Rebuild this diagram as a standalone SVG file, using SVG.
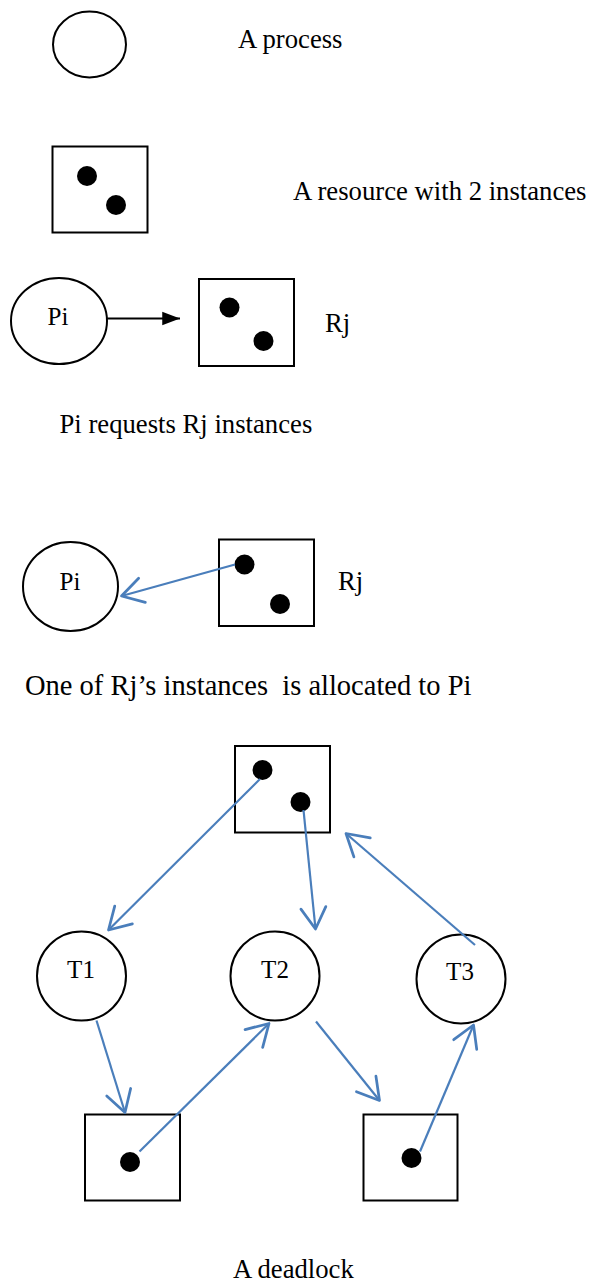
<svg xmlns="http://www.w3.org/2000/svg" width="589" height="1283" viewBox="0 0 589 1283">
<style>
.shape{fill:#fff;stroke:#000;stroke-width:2}
.dot{fill:#000}
text{font-family:"Liberation Serif","DejaVu Serif","Times New Roman",serif;fill:#000}
.txt{font-size:26.7px}
.big{font-size:28.5px}
.lbl{font-size:25px;text-anchor:middle}
.blue{fill:none;stroke:#4A7EBB;stroke-width:2.2;marker-end:url(#open)}
.black{fill:none;stroke:#000;stroke-width:2;marker-end:url(#solid)}
</style>
<defs>
<marker id="open" markerUnits="userSpaceOnUse" markerWidth="30" markerHeight="30" viewBox="-20 -12 22 24" refX="0" refY="0" orient="auto" overflow="visible">
<path d="M -17 -10 L 0 0 L -17 10" fill="none" stroke="#4A7EBB" stroke-width="2.2" stroke-linejoin="round" stroke-linecap="round"/>
</marker>
<marker id="solid" markerUnits="userSpaceOnUse" markerWidth="20" markerHeight="20" viewBox="-17 -7 18 14" refX="0" refY="0" orient="auto" overflow="visible">
<path d="M -16 -6 L 0 0 L -16 6 z" fill="#000"/>
</marker>
</defs>

<g id="legend-process">
<ellipse class="shape" cx="89.5" cy="44.5" rx="36.5" ry="33"/>
<text class="txt" x="238" y="48">A process</text>
</g>

<g id="legend-resource">
<rect class="shape" x="52.5" y="146.5" width="95" height="86"/>
<circle class="dot" cx="87" cy="176" r="10"/>
<circle class="dot" cx="116" cy="205" r="10"/>
<text class="txt" x="293" y="200">A resource with 2 instances</text>
</g>

<g id="req-Pi">
<ellipse class="shape" cx="59" cy="321" rx="48" ry="43"/>
<text class="lbl" x="58" y="325">Pi</text>
</g>
<g id="req-Rj">
<rect class="shape" x="199" y="279" width="95" height="87"/>
<circle class="dot" cx="229.5" cy="307.5" r="10"/>
<circle class="dot" cx="263.5" cy="341" r="10"/>
<text class="txt" x="325" y="332">Rj</text>
</g>
<text class="txt" x="59.5" y="433">Pi requests Rj instances</text>

<g id="alloc-Pi">
<ellipse class="shape" cx="70.5" cy="586.5" rx="47.5" ry="44.5"/>
<text class="lbl" x="70" y="590">Pi</text>
</g>
<g id="alloc-Rj">
<rect class="shape" x="219" y="539.5" width="95" height="86.5"/>
<circle class="dot" cx="244.5" cy="564.5" r="10"/>
<circle class="dot" cx="280" cy="604" r="10"/>
<text class="txt" x="338" y="590">Rj</text>
</g>
<text class="big" x="25" y="695" xml:space="preserve">One of Rj’s instances  is allocated to Pi</text>

<g id="R1">
<rect class="shape" x="235" y="746" width="95" height="86.5"/>
<circle class="dot" cx="262.5" cy="770" r="10"/>
<circle class="dot" cx="300.5" cy="802" r="10"/>
</g>
<g id="T1">
<circle class="shape" cx="81.5" cy="976" r="44.5"/>
<text class="lbl" x="81" y="978">T1</text>
</g>
<g id="T2">
<circle class="shape" cx="275" cy="976" r="44.5"/>
<text class="lbl" x="275" y="978">T2</text>
</g>
<g id="T3">
<circle class="shape" cx="461" cy="979" r="44.5"/>
<text class="lbl" x="460" y="980">T3</text>
</g>
<g id="R2">
<rect class="shape" x="85" y="1114.5" width="95" height="86"/>
<circle class="dot" cx="130" cy="1162" r="10"/>
</g>
<g id="R3">
<rect class="shape" x="363.5" y="1114.5" width="94" height="86"/>
<circle class="dot" cx="411.5" cy="1158" r="10"/>
</g>
<text class="txt" x="233" y="1278">A deadlock</text>

<g id="connectors">
<line class="black" x1="107" y1="318.5" x2="180" y2="318.5"/>
<line class="blue" x1="235" y1="564.5" x2="121.5" y2="596"/>
<line class="blue" x1="260" y1="779" x2="108.5" y2="930"/>
<line class="blue" x1="303.5" y1="810" x2="315.5" y2="929"/>
<line class="blue" x1="475" y1="945" x2="346" y2="833.5"/>
<line class="blue" x1="96.5" y1="1020.5" x2="125" y2="1112.5"/>
<line class="blue" x1="139.5" y1="1151.5" x2="269" y2="1023.5"/>
<line class="blue" x1="316" y1="1021.5" x2="379.5" y2="1100.5"/>
<line class="blue" x1="420" y1="1151.5" x2="473.5" y2="1025"/>
</g>
</svg>
